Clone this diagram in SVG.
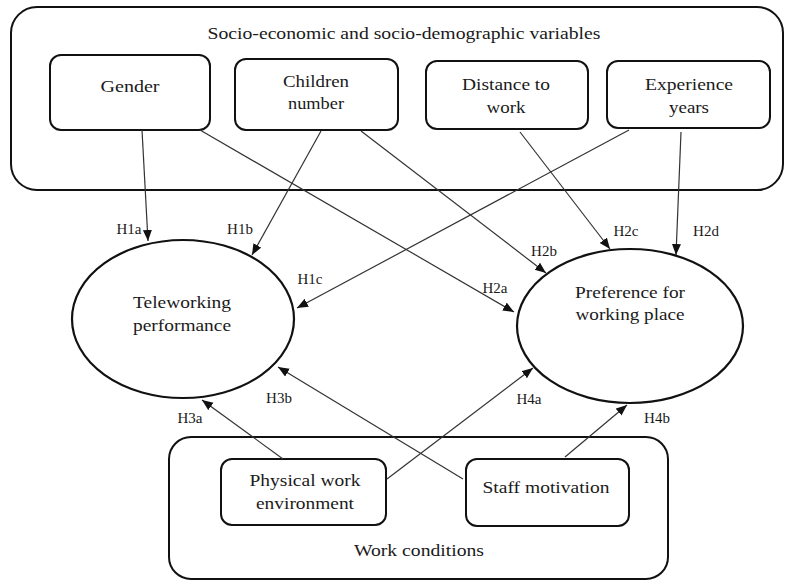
<svg xmlns="http://www.w3.org/2000/svg" width="787" height="582" viewBox="0 0 787 582">
<defs>
<style>
.box{fill:#fff;stroke:#111;stroke-width:2}
.grp{fill:none;stroke:#111;stroke-width:2}
.ell{fill:#fff;stroke:#111;stroke-width:2.2}
.t{font-family:"Liberation Serif","Times New Roman",serif;font-size:17px;fill:#1a1a1a;text-anchor:middle}
.h{font-family:"Liberation Serif","Times New Roman",serif;font-size:15px;fill:#1a1a1a;text-anchor:middle}
.c{stroke:#333;stroke-width:1.2;fill:none;marker-end:url(#ah)}
</style>
<marker id="ah" markerUnits="userSpaceOnUse" markerWidth="12" markerHeight="10" refX="11" refY="4.5" orient="auto">
<path d="M0,0 L11,4.5 L0,9 z" fill="#111"/>
</marker>
</defs>
<rect width="787" height="582" fill="#fff"/>
<g id="socio-group">
<rect class="grp" x="11" y="7" width="772" height="183" rx="26"/>
<text class="t" x="404" y="39" textLength="393" lengthAdjust="spacingAndGlyphs">Socio-economic and socio-demographic variables</text>
</g>
<g id="work-group">
<rect class="grp" x="169" y="437" width="499" height="142" rx="22"/>
<text class="t" x="419" y="556" textLength="130" lengthAdjust="spacingAndGlyphs">Work conditions</text>
</g>
<g id="gender">
<rect class="box" x="50" y="55" width="160" height="75" rx="11"/>
<text class="t" x="130" y="92" textLength="59" lengthAdjust="spacingAndGlyphs">Gender</text>
</g>
<g id="children">
<rect class="box" x="235" y="59" width="163" height="71" rx="11"/>
<text class="t" x="316" y="87" textLength="66" lengthAdjust="spacingAndGlyphs">Children</text>
<text class="t" x="316" y="109" textLength="56" lengthAdjust="spacingAndGlyphs">number</text>
</g>
<g id="distance">
<rect class="box" x="426" y="61" width="162" height="68" rx="11"/>
<text class="t" x="506" y="90" textLength="88" lengthAdjust="spacingAndGlyphs">Distance to</text>
<text class="t" x="506" y="113" textLength="39" lengthAdjust="spacingAndGlyphs">work</text>
</g>
<g id="experience">
<rect class="box" x="607" y="61" width="163" height="67" rx="11"/>
<text class="t" x="689" y="90" textLength="88" lengthAdjust="spacingAndGlyphs">Experience</text>
<text class="t" x="689" y="113" textLength="40" lengthAdjust="spacingAndGlyphs">years</text>
</g>
<g id="teleworking">
<ellipse class="ell" cx="183" cy="319" rx="111" ry="79"/>
<text class="t" x="182" y="308" textLength="98" lengthAdjust="spacingAndGlyphs">Teleworking</text>
<text class="t" x="182" y="331" textLength="98" lengthAdjust="spacingAndGlyphs">performance</text>
</g>
<g id="preference">
<ellipse class="ell" cx="630" cy="326" rx="113" ry="77"/>
<text class="t" x="630" y="298" textLength="110" lengthAdjust="spacingAndGlyphs">Preference for</text>
<text class="t" x="630" y="320" textLength="109" lengthAdjust="spacingAndGlyphs">working place</text>
</g>
<g id="physical">
<rect class="box" x="221" y="459" width="165" height="66" rx="11"/>
<text class="t" x="305" y="486" textLength="111" lengthAdjust="spacingAndGlyphs">Physical work</text>
<text class="t" x="305" y="509" textLength="98" lengthAdjust="spacingAndGlyphs">environment</text>
</g>
<g id="staff">
<rect class="box" x="466" y="459" width="163" height="67" rx="11"/>
<text class="t" x="546" y="493" textLength="127" lengthAdjust="spacingAndGlyphs">Staff motivation</text>
</g>
<g id="connectors">
<line class="c" x1="142" y1="130" x2="148" y2="241"/>
<line class="c" x1="200" y1="130" x2="514" y2="312"/>
<line class="c" x1="321" y1="131" x2="252" y2="255"/>
<line class="c" x1="361" y1="131" x2="546" y2="273"/>
<line class="c" x1="520" y1="132" x2="610" y2="249"/>
<line class="c" x1="629" y1="130" x2="297" y2="308"/>
<line class="c" x1="681" y1="132" x2="676" y2="255"/>
<line class="c" x1="283" y1="459" x2="202" y2="400"/>
<line class="c" x1="463" y1="479" x2="278" y2="367"/>
<line class="c" x1="387" y1="479" x2="533" y2="368"/>
<line class="c" x1="565" y1="457" x2="627" y2="405"/>
</g>
<g id="labels">
<text class="h" x="129" y="234">H1a</text>
<text class="h" x="240" y="234">H1b</text>
<text class="h" x="310" y="284">H1c</text>
<text class="h" x="495" y="293">H2a</text>
<text class="h" x="544" y="256">H2b</text>
<text class="h" x="626" y="236">H2c</text>
<text class="h" x="706" y="236">H2d</text>
<text class="h" x="190" y="423">H3a</text>
<text class="h" x="279" y="403">H3b</text>
<text class="h" x="529" y="404">H4a</text>
<text class="h" x="657" y="423">H4b</text>
</g>
</svg>
